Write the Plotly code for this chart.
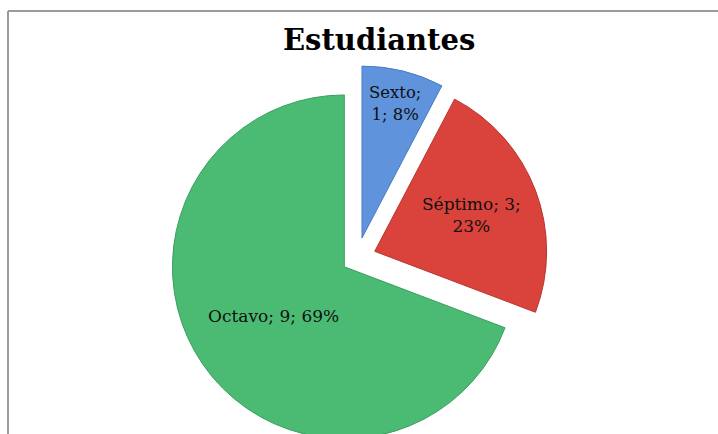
import plotly.graph_objects as go

# Students per grade
grades = ["Sexto", "Séptimo", "Octavo"]
students = [1, 3, 9]
slice_colors = ["#5f93dc", "#da433b", "#4bbb74"]
edge_colors = ["#4a7cc4", "#b8332c", "#3a9e5f"]
explode = [0.12, 0.11, 0.09]
label_templates = [
    "%{label};<br>%{value}; %{percent:.0%}",
    "%{label}; %{value};<br>%{percent:.0%}",
    "%{label}; %{value}; %{percent:.0%}",
]

W, H = 718, 520

fig = go.Figure(
    go.Pie(
        labels=grades,
        values=students,
        sort=False,
        direction="clockwise",
        rotation=0,
        pull=explode,
        marker=dict(colors=slice_colors, line=dict(color=edge_colors, width=1)),
        texttemplate=label_templates,
        textposition="inside",
        insidetextorientation="horizontal",
        textfont=dict(family="DejaVu Serif", size=17, color="#101010"),
        hoverinfo="label+value+percent",
        domain=dict(x=[0.2290, 0.7656], y=[0.1336, 0.8740]),
    )
)

frame = dict(color="#9a9a9a", width=2)
fig.update_layout(
    width=W,
    height=H,
    margin=dict(l=0, r=0, t=0, b=0),
    paper_bgcolor="white",
    plot_bgcolor="white",
    showlegend=False,
    title=dict(
        text="<b>Estudiantes</b>",
        x=0.528,
        xanchor="center",
        y=1 - 40 / H,
        yanchor="middle",
        font=dict(family="DejaVu Serif", size=29, color="black"),
    ),
    shapes=[
        dict(type="line", xref="paper", yref="paper",
             x0=8 / W, x1=1.0, y0=1 - 11 / H, y1=1 - 11 / H, line=frame),
        dict(type="line", xref="paper", yref="paper",
             x0=8 / W, x1=8 / W, y0=1 - 11 / H, y1=0.0, line=frame),
    ],
)

# The chart runs past the bottom edge of the page; clip its container.
clip_js = (
    "var gd=document.getElementById('{plot_id}');"
    "gd.parentElement.style.height='434px';"
    "gd.parentElement.style.overflow='hidden';"
    "document.body.style.margin='0';"
    "document.body.style.overflow='hidden';"
)
fig.write_html("out.html", post_script=clip_js)
